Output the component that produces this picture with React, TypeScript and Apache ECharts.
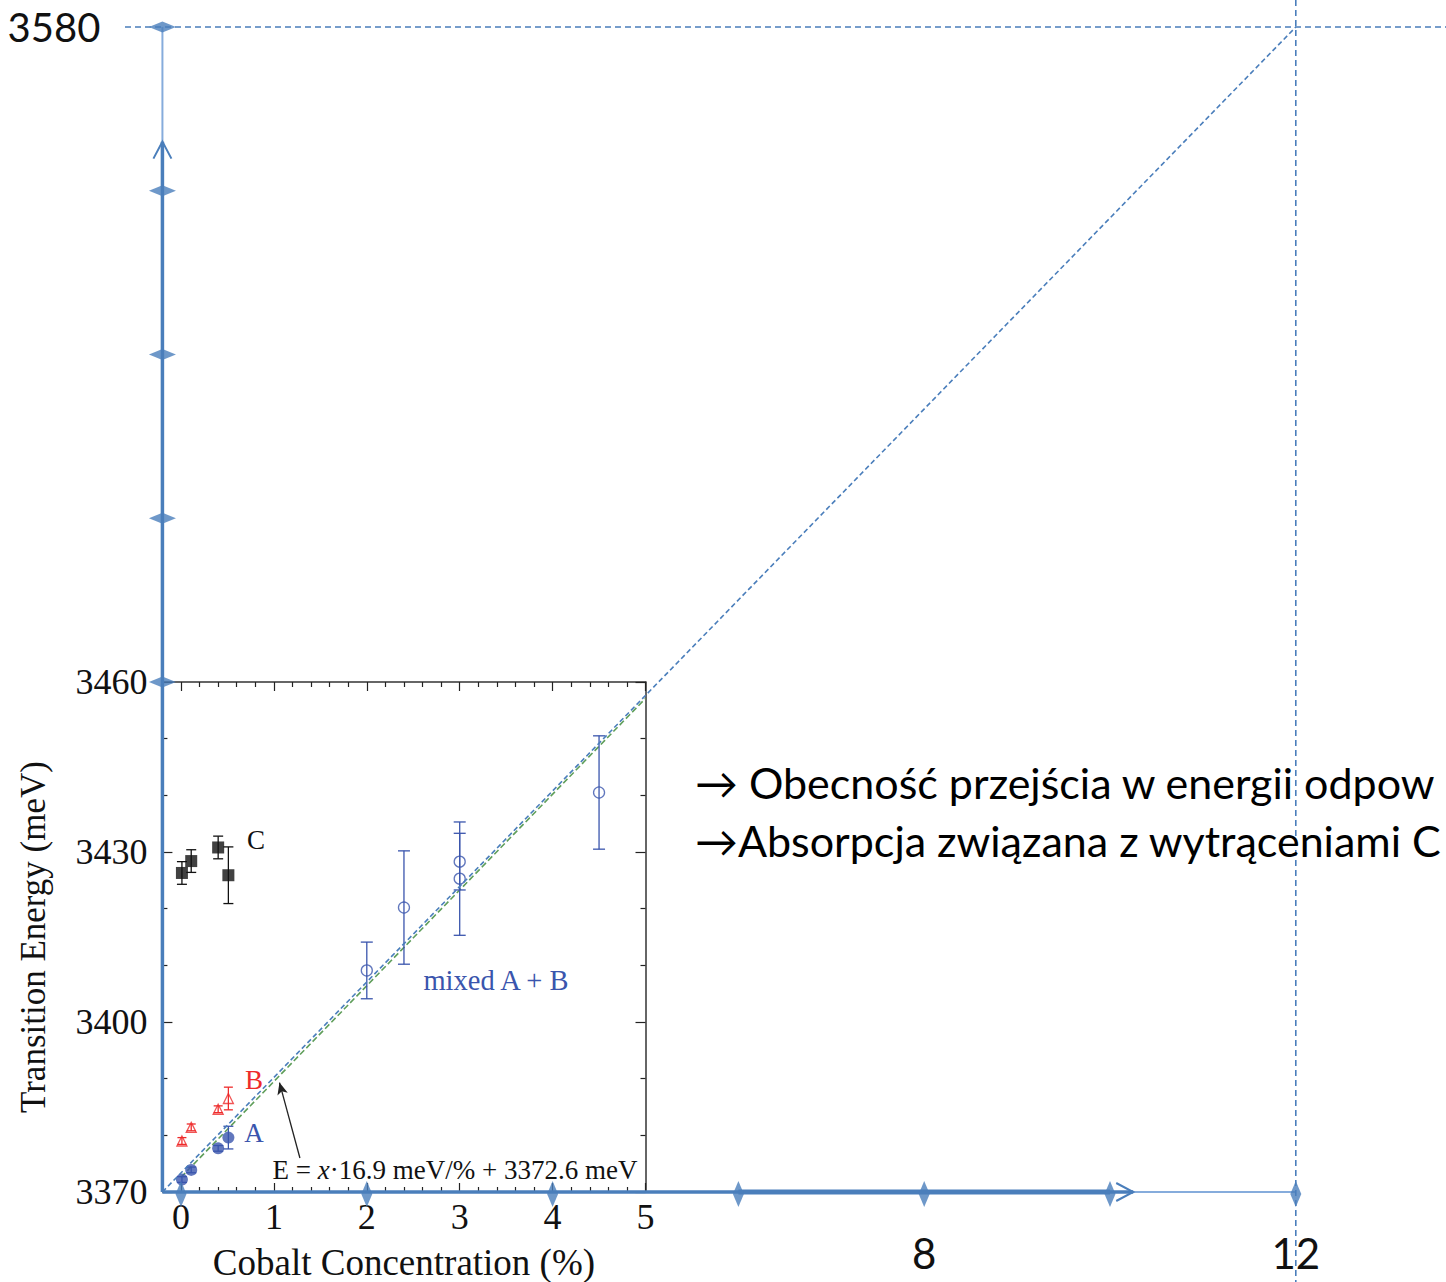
import React, { useEffect, useRef } from 'react';
import * as echarts from 'echarts';

// Low-doping samples (cobalt %, shared by lines A, B and C)
const LOW_CO = [0.01, 0.11, 0.4, 0.51];
const C_ENERGY = [3426.3, 3428.4, 3430.8, 3425.9];
const C_ERROR = [2, 2, 2, 5];
const B_ENERGY = [3379.0, 3381.4, 3384.6, 3386.5];
const B_ERROR = [0.6, 0.6, 0.6, 2];
const A_ENERGY = [3372.2, 3373.9, 3377.7, 3379.6];
const A_ERROR = [0.5, 0.5, 0.5, 2];

// Higher-doping samples where A and B merge
const MIXED_CO = [2.0, 2.4, 3.0, 3.0, 4.5];
const MIXED_ENERGY = [3409.1, 3420.2, 3428.3, 3425.3, 3440.5];
const MIXED_ERROR = [5, 10, 5, 10, 10];

// Linear fit E = x * 16.9 meV/% + 3372.6 meV
const FIT_SLOPE = 16.9;
const FIT_INTERCEPT = 3372.6;
const FIT_RANGE = [0, 5];

// Ticks of the inset plot
const INSET_X_TICKS = [0, 1, 2, 3, 4, 5];
const INSET_X_MINOR: number[] = [];
for (let i = 1; i < 25; i++) if (i % 5 !== 0) INSET_X_MINOR.push(i / 5);
const INSET_Y_TICKS = [3370, 3400, 3430, 3460];
const INSET_Y_MINOR = [3380, 3390, 3410, 3420, 3440, 3450];

// Extended axes and the extrapolation target
const OUTER_X_TICKS = [0, 2, 4, 6, 8, 10, 12];
const OUTER_X_LABELS = [8, 12];
const OUTER_Y_TICKS = [3460, 3490, 3520, 3550, 3580];
const OUTER_Y_LABELS = [3580];
const TARGET = [12, 3580];

// Slide notes beside the plot
const NOTES = ['\u2192 Obecność przejścia w energii odpow', '\u2192Absorpcja związana z wytrąceniami C'];

const BLUE = '#4a7ebb';
const BLUE_LIGHT = '#86acdc';
const DATA_BLUE = '#3a55ad';
const DATA_RED = '#ee2b2b';
const FIT_GREEN = '#5f9e5a';
const SERIF = '"Liberation Serif", "Times New Roman", serif';
const SANS = 'Lato, "Open Sans", sans-serif';

const UNIT = 92.9; // px per 1 % cobalt
const LEFT = 181 - 0.2 * UNIT;

const fit = (x: number) => FIT_SLOPE * x + FIT_INTERCEPT;
const plain = (v: number) => String(v);

function errorBars(name: string, xs: number[], ys: number[], errs: number[], color: string, cap: number) {
  return {
    name,
    type: 'custom',
    xAxisIndex: 0,
    yAxisIndex: 0,
    clip: false,
    z: 3,
    data: xs.map((x, i) => [x, ys[i] - errs[i], ys[i] + errs[i]]),
    encode: { x: 0, y: [1, 2] },
    renderItem: (_p: any, api: any) => {
      const x = api.value(0);
      const lo = api.coord([x, api.value(1)]);
      const hi = api.coord([x, api.value(2)]);
      const style = { stroke: color, lineWidth: 1.3 };
      return {
        type: 'group',
        children: [
          { type: 'line', shape: { x1: lo[0], y1: lo[1], x2: hi[0], y2: hi[1] }, style },
          { type: 'line', shape: { x1: lo[0] - cap, y1: lo[1], x2: lo[0] + cap, y2: lo[1] }, style },
          { type: 'line', shape: { x1: hi[0] - cap, y1: hi[1], x2: hi[0] + cap, y2: hi[1] }, style },
        ],
      };
    },
  };
}

function tickAxis(gridIndex: number, position: string, min: number, max: number, ticks: number[], len: number, extra: any = {}) {
  const { axisLine, ...rest } = extra;
  return {
    type: 'value',
    gridIndex,
    position,
    min,
    max,
    axisLine: { show: false, onZero: false, ...(axisLine || {}) },
    axisTick: { show: true, inside: true, length: len, customValues: ticks, lineStyle: { color: '#222', width: 1.2 } },
    axisLabel: { show: false },
    splitLine: { show: false },
    ...rest,
  };
}

function buildOption() {
  const insetLabel = { fontFamily: SERIF, fontSize: 36, color: '#111', formatter: plain };
  return {
    animation: false,
    backgroundColor: '#ffffff',
    grid: [
      { left: LEFT, top: 682, width: 5.2 * UNIT, height: 512 },
      { left: LEFT, top: 27, width: 12.2 * UNIT, height: 655 },
      { left: LEFT, top: 682, width: 12.2 * UNIT, height: 512 },
    ],
    xAxis: [
      tickAxis(0, 'bottom', -0.2, 5, INSET_X_TICKS, 9, {
        axisLabel: { show: true, customValues: INSET_X_TICKS, margin: 7, ...insetLabel },
        name: 'Cobalt Concentration (%)',
        nameLocation: 'middle',
        nameGap: 52,
        nameTextStyle: { fontFamily: SERIF, fontSize: 37, color: '#111' },
      }),
      tickAxis(0, 'bottom', -0.2, 5, INSET_X_MINOR, 5),
      tickAxis(0, 'top', -0.2, 5, INSET_X_TICKS, 9, {
        axisLine: { show: true, lineStyle: { color: '#333', width: 1.5 } },
      }),
      tickAxis(0, 'top', -0.2, 5, INSET_X_MINOR, 5),
      { type: 'value', gridIndex: 1, min: -0.2, max: 12, show: false },
      {
        type: 'value',
        gridIndex: 2,
        min: -0.2,
        max: 12,
        axisLine: { show: false, onZero: false },
        axisTick: { show: false },
        splitLine: { show: false },
        axisLabel: {
          show: true,
          customValues: OUTER_X_LABELS,
          margin: 38,
          fontFamily: SANS,
          fontSize: 42,
          color: '#111',
          formatter: plain,
        },
      },
    ],
    yAxis: [
      tickAxis(0, 'left', 3370, 3460, INSET_Y_TICKS, 10, {
        axisLabel: { show: true, customValues: INSET_Y_TICKS, margin: 15, ...insetLabel },
        name: 'Transition Energy (meV)',
        nameLocation: 'middle',
        nameGap: 111,
        nameTextStyle: { fontFamily: SERIF, fontSize: 35, color: '#111' },
      }),
      tickAxis(0, 'left', 3370, 3460, INSET_Y_MINOR, 5),
      tickAxis(0, 'right', 3370, 3460, INSET_Y_TICKS, 10, {
        axisLine: { show: true, lineStyle: { color: '#333', width: 1.5 } },
      }),
      tickAxis(0, 'right', 3370, 3460, INSET_Y_MINOR, 5),
      {
        type: 'value',
        gridIndex: 1,
        min: 3460,
        max: 3580,
        axisLine: { show: false, onZero: false },
        axisTick: { show: false },
        splitLine: { show: false },
        axisLabel: {
          show: true,
          customValues: OUTER_Y_LABELS,
          margin: 62,
          fontFamily: SANS,
          fontSize: 40,
          color: '#111',
          formatter: plain,
        },
      },
      { type: 'value', gridIndex: 2, min: 3370, max: 3460, show: false },
    ],
    series: [
      {
        name: 'fit',
        type: 'line',
        xAxisIndex: 0,
        yAxisIndex: 0,
        data: FIT_RANGE.map((x) => [x, fit(x)]),
        symbol: 'none',
        z: 2,
        lineStyle: { color: FIT_GREEN, width: 1.6, type: [6, 3] },
        markLine: {
          silent: true,
          symbol: ['none', 'arrow'],
          symbolSize: [8, 12],
          label: { show: false },
          lineStyle: { color: '#222', width: 1.3, type: 'solid' },
          data: [[{ coord: [1.28, 3376] }, { coord: [1.06, fit(1.06) - 1.2] }]],
        },
      },
      errorBars('C err', LOW_CO, C_ENERGY, C_ERROR, '#111', 5),
      errorBars('B err', LOW_CO, B_ENERGY, B_ERROR, DATA_RED, 4.5),
      errorBars('A err', LOW_CO, A_ENERGY, A_ERROR, DATA_BLUE, 5),
      errorBars('mixed err', MIXED_CO, MIXED_ENERGY, MIXED_ERROR, DATA_BLUE, 6),
      {
        name: 'C',
        type: 'scatter',
        xAxisIndex: 0,
        yAxisIndex: 0,
        symbol: 'rect',
        symbolSize: 12,
        z: 4,
        itemStyle: { color: '#111' },
        data: LOW_CO.map((x, i) => [x, C_ENERGY[i]]),
      },
      {
        name: 'B',
        type: 'scatter',
        xAxisIndex: 0,
        yAxisIndex: 0,
        symbol: 'triangle',
        symbolSize: 10,
        z: 4,
        itemStyle: { color: 'rgba(255,255,255,0)', borderColor: DATA_RED, borderWidth: 1.3 },
        data: LOW_CO.map((x, i) => [x, B_ENERGY[i]]),
      },
      {
        name: 'A',
        type: 'scatter',
        xAxisIndex: 0,
        yAxisIndex: 0,
        symbol: 'circle',
        symbolSize: 12,
        z: 4,
        itemStyle: { color: DATA_BLUE },
        data: LOW_CO.map((x, i) => [x, A_ENERGY[i]]),
      },
      {
        name: 'mixed A + B',
        type: 'scatter',
        xAxisIndex: 0,
        yAxisIndex: 0,
        symbol: 'circle',
        symbolSize: 11,
        z: 4,
        itemStyle: { color: 'rgba(255,255,255,0)', borderColor: DATA_BLUE, borderWidth: 1.3 },
        data: MIXED_CO.map((x, i) => [x, MIXED_ENERGY[i]]),
      },
      {
        name: 'x ticks',
        type: 'scatter',
        xAxisIndex: 5,
        yAxisIndex: 5,
        clip: false,
        symbol: 'diamond',
        symbolSize: [11, 26],
        z: 20,
        itemStyle: { color: BLUE },
        data: OUTER_X_TICKS.map((x) => [x, 3370]),
      },
      {
        name: 'y ticks',
        type: 'scatter',
        xAxisIndex: 4,
        yAxisIndex: 4,
        clip: false,
        symbol: 'diamond',
        symbolSize: [27, 11],
        z: 20,
        itemStyle: { color: BLUE },
        data: OUTER_Y_TICKS.map((y) => [-0.2, y]),
      },
    ],
  };
}

function buildGraphic(chart: any) {
  const px = (g: number, v: number[]) => chart.convertToPixel({ gridIndex: g }, v) as number[];
  const origin = px(0, [-0.2, 3370]);
  const target = px(1, TARGET);
  const yTop = px(1, [-0.2, 3580]);
  const yArrow = px(1, [-0.2, 3559]);
  const xArrow = px(2, [10.25, 3370]);
  const xEnd = px(2, [12, 3370]);
  const x6 = px(2, [6, 3370]);
  const x10 = px(2, [10, 3370]);
  const seg = (x1: number, y1: number, x2: number, y2: number, style: any, z = 10) => ({
    type: 'line',
    z,
    silent: true,
    shape: { x1, y1, x2, y2 },
    style,
  });
  const thick = { stroke: BLUE, lineWidth: 3.5 };
  const dashed = { stroke: BLUE, lineWidth: 1.6, lineDash: [6, 4] };
  const text = (t: string, x: number, y: number, size: number, family: string, fill: string, align = 'center') => ({
    type: 'text',
    z: 30,
    silent: true,
    x,
    y,
    style: { text: t, fontSize: size, fontFamily: family, fill, align, verticalAlign: 'middle' },
  });
  return [
    // extended vertical axis
    seg(origin[0], yArrow[1], origin[0], yTop[1], { stroke: BLUE_LIGHT, lineWidth: 2 }),
    seg(origin[0], origin[1], origin[0], yArrow[1], thick),
    {
      type: 'polyline',
      z: 11,
      silent: true,
      shape: { points: [[origin[0] - 9, yArrow[1] + 17], [origin[0], yArrow[1]], [origin[0] + 9, yArrow[1] + 17]] },
      style: { stroke: BLUE, lineWidth: 2, fill: 'none' },
    },
    // extended horizontal axis
    seg(xArrow[0], origin[1], xEnd[0], origin[1], { stroke: BLUE_LIGHT, lineWidth: 2 }),
    seg(origin[0], origin[1], xArrow[0], origin[1], thick),
    seg(x6[0], origin[1], x10[0], origin[1], { stroke: BLUE, lineWidth: 5 }),
    {
      type: 'polyline',
      z: 11,
      silent: true,
      shape: { points: [[xArrow[0] - 17, origin[1] - 9], [xArrow[0], origin[1]], [xArrow[0] - 17, origin[1] + 9]] },
      style: { stroke: BLUE, lineWidth: 2, fill: 'none' },
    },
    // guides to the extrapolated point
    seg(125, target[1], 1446, target[1], dashed, 12),
    seg(target[0], 0, target[0], 1282, dashed, 12),
    seg(origin[0], origin[1], target[0], target[1], { stroke: BLUE, lineWidth: 1.6, lineDash: [5, 3] }, 12),
    // inset annotations
    text('C', 256, 840, 27, SERIF, '#111'),
    text('B', 254, 1080, 27, SERIF, DATA_RED),
    text('A', 254, 1133, 27, SERIF, DATA_BLUE),
    text('mixed A + B', 496, 980, 28.5, SERIF, DATA_BLUE),
    {
      type: 'text',
      z: 30,
      silent: true,
      x: 455,
      y: 1170,
      style: {
        text: '{n|E = }{i|x}{n|·16.9 meV/% + 3372.6 meV}',
        align: 'center',
        verticalAlign: 'middle',
        rich: {
          n: { fontFamily: SERIF, fontSize: 27, fill: '#111' },
          i: { fontFamily: SERIF, fontSize: 27, fontStyle: 'italic', fill: '#111' },
        },
      },
    },
    // slide notes
    text(NOTES[0], 695, 782, 43, SANS, '#000', 'left'),
    text(NOTES[1], 695, 840, 43, SANS, '#000', 'left'),
  ];
}

export default function App() {
  const ref = useRef<HTMLDivElement>(null);
  useEffect(() => {
    const chart = echarts.init(ref.current!, null, { renderer: 'svg' });
    chart.setOption(buildOption());
    chart.setOption({ graphic: buildGraphic(chart) });
    return () => chart.dispose();
  }, []);
  return (
    <div
      ref={ref}
      style={{ position: 'fixed', left: 0, top: 0, width: 1446, height: 1282, background: '#fff', overflow: 'hidden' }}
    />
  );
}
